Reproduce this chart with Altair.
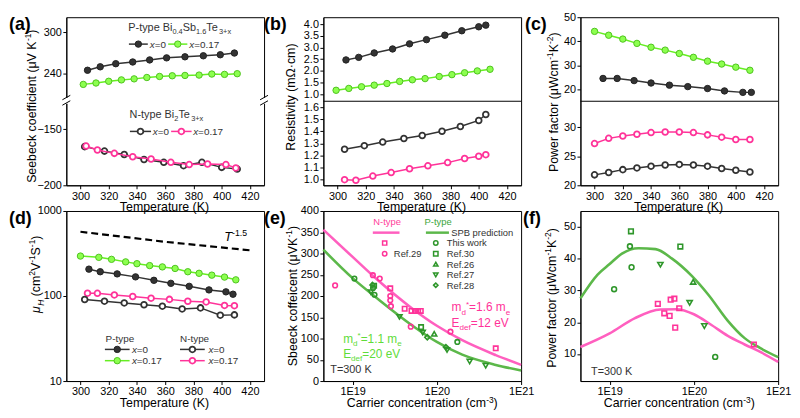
import altair as alt
import pandas as pd

FONT = "Liberation Sans"
W, H1, H2 = 200, 170, 172
HALF = H1 / 2

BLACK = "#333333"
GREEN_LINE = "#66ee22"
GREEN_FILL = "#8cff4f"
GREEN_EDGE = "#4fc21f"
PINK = "#ff3399"
PINK_CURVE = "#ff5fbf"
GREEN_CURVE = "#5cb84a"
GREEN_MK = "#2e962a"
GREEN_TXT = "#5fdc3a"

T_TICKS = [300, 320, 340, 360, 380, 400, 420]

# ---------------- (a) Seebeck coefficient vs T ----------------
a_T_p0 = [305, 314, 325, 337, 349, 361, 374, 387, 399, 409]
a_S_p0 = [245, 250, 254.5, 257, 260, 263, 264.5, 266, 267.5, 270]
a_T_p17 = [302, 311, 320, 329, 338, 347, 356, 365, 374, 384, 393, 402, 411]
a_S_p17 = [224.5, 226.5, 229, 231, 232.5, 234.5, 236, 237, 237.5, 238, 239.5, 239, 240]
a_T_n0 = [303, 317, 331, 345, 359, 373, 386, 400, 411]
a_S_n0 = [-165.5, -169.5, -172.5, -177, -179.5, -182.5, -179.5, -184, -185.5]
a_T_n17 = [304, 312, 324, 337, 350, 364, 377, 390, 403, 410]
a_S_n17 = [-165, -168.5, -171.5, -174.5, -176.5, -179.5, -181.5, -181, -181.5, -184.5]

# ---------------- (b) Resistivity vs T ----------------
b_T_p0 = [306, 315, 326, 339, 351, 363, 376, 388, 400, 405]
b_R_p0 = [2.47, 2.58, 2.77, 2.94, 3.16, 3.34, 3.53, 3.72, 3.89, 3.96]
b_T_p17 = [299, 308, 317, 326, 335, 344, 353, 362, 372, 381, 390, 399, 408]
b_R_p17 = [1.17, 1.25, 1.32, 1.39, 1.46, 1.55, 1.62, 1.67, 1.76, 1.84, 1.92, 2.00, 2.07]
b_T_n0 = [305, 319, 332, 347, 360, 374, 387, 400, 405]
b_R_n0 = [1.25, 1.28, 1.31, 1.34, 1.365, 1.40, 1.44, 1.49, 1.54]
b_T_n17 = [305, 313, 325, 338, 351, 364, 378, 390, 400, 405]
b_R_n17 = [0.997, 0.992, 1.027, 1.056, 1.088, 1.112, 1.139, 1.173, 1.192, 1.205]

# ---------------- (c) Power factor vs T ----------------
c_T_p17 = [300, 310, 320, 330, 340, 350, 360, 370, 380, 390, 400, 410]
c_PF_p17 = [44.1, 42.5, 40.9, 39.1, 37.5, 36.3, 34.9, 33.3, 31.7, 30.5, 29.2, 27.9]
c_T_p0 = [306, 316, 328, 340, 353, 366, 380, 392, 405, 411]
c_PF_p0 = [24.5, 24.5, 23.6, 22.6, 21.7, 21.1, 20.3, 19.3, 18.7, 18.7]
c_T_n17 = [300, 310, 320, 330, 340, 350, 360, 370, 380, 390, 400, 410]
c_PF_n17 = [27.2, 28.1, 28.5, 28.8, 29.1, 29.2, 29.2, 29.1, 28.7, 28.3, 27.9, 27.9]
c_T_n0 = [300, 310, 320, 330, 340, 350, 360, 370, 380, 390, 400, 410]
c_PF_n0 = [21.8, 22.2, 22.7, 23.0, 23.3, 23.5, 23.6, 23.5, 23.3, 22.9, 22.6, 22.3]

# ---------------- (d) Hall mobility vs T ----------------
d_T_ref = [300, 360, 420]
d_mu_ref = [570, 434, 345]
d_T_p17 = [300, 313, 322, 332, 340, 349, 358, 367, 376, 384, 393, 402, 410]
d_mu_p17 = [295, 285, 270, 252, 240, 228, 220, 211, 193, 185, 176, 167, 155]
d_T_p0 = [306, 314, 326, 339, 352, 364, 377, 391, 403, 408]
d_mu_p0 = [207, 193, 182, 168, 153, 141, 130, 118, 112, 105]
d_T_n17 = [305, 312, 324, 337, 350, 363, 376, 389, 402, 409]
d_mu_n17 = [108, 107.5, 103, 98.7, 94.3, 91.3, 86.7, 85.2, 77.5, 77]
d_T_n0 = [303, 317, 331, 345, 358, 372, 385, 399, 409]
d_mu_n0 = [91, 87, 83, 79, 76, 70.5, 72.5, 59.5, 60]

# ---------------- (e) Seebeck vs carrier concentration ----------------
e_curveN_n = [4.5e18, 1e19, 2e19, 5e19, 1e20, 2e20, 5e20, 1e21]
e_curveN_S = [356, 292, 237, 172, 130, 96, 61, 38]
e_curveP_n = [4.5e18, 1e19, 2e19, 5e19, 1e20, 2e20, 5e20, 1e21]
e_curveP_S = [309, 242, 193, 132, 92, 62, 38, 25]
e_Ntw_n = [2.8e19, 4.15e19, 5.0e19, 5.5e19, 6.0e19, 6.45e19, 5.0e20]
e_Ntw_S = [218, 170, 165, 165, 165, 165, 77]
e_N29_n = [6.2e18, 1.74e19, 2.1e19, 2.8e19, 2.8e19, 2.85e19, 4.9e19, 1.45e20]
e_N29_S = [225, 249, 241, 200, 190, 176, 128, 116]
e_Ptw_n = [1.05e19, 1.75e19, 1.82e19, 1.75e20]
e_Ptw_S = [241, 219, 203, 92]
e_P30_n = [1.8e19, 6.5e19]
e_P30_S = [224, 127]
e_P26_n = [9.3e19]
e_P26_S = [111]
e_P27_n = [1.65e19, 3.6e19, 6.8e19, 1.32e20, 2.45e20, 3.8e20]
e_P27_S = [209, 151, 114, 73, 46, 36]
e_P28_n = [1.72e19, 7.7e19, 1.28e20]
e_P28_S = [226, 103, 80]

# ---------------- (f) Power factor vs carrier concentration ----------------
f_curveP_n = [4.5e18, 7.2e18, 1e19, 1.4e19, 2.2e19, 3.5e19, 5.5e19, 9.5e19, 1.5e20, 2.5e20, 4e20, 6e20, 1e21]
f_curveP_PF = [27.5, 35.0, 38.3, 41.6, 43.3, 43.0, 40.0, 34.5, 28.5, 20.6, 15.0, 12.0, 9.0]
f_curveN_n = [4.5e18, 1e19, 2e19, 4e19, 6.3e19, 1e20, 1.6e20, 2.5e20, 4e20, 6.3e20, 1e21]
f_curveN_PF = [12.2, 16.5, 21.3, 24.0, 24.1, 22.5, 19.2, 15.8, 13.0, 10.5, 7.5]
f_Ptw_n = [1.13e19, 1.74e19, 1.82e19, 1.79e20]
f_Ptw_PF = [30.4, 43.9, 37.3, 9.1]
f_P30_n = [1.79e19, 6.9e19]
f_P30_PF = [48.6, 43.8]
f_P26_n = [9.8e19]
f_P26_PF = [32.7]
f_P27_n = [4.0e19, 8.9e19, 1.33e20]
f_P27_PF = [38.1, 26.1, 18.8]
f_Ntw_n = [3.73e19, 4.45e19, 5.15e19, 5.3e19, 5.86e19, 6.0e19, 6.7e19, 5.15e20]
f_Ntw_PF = [25.8, 22.8, 22.0, 27.1, 27.4, 18.3, 24.4, 13.0]

# ---------------- helpers ----------------
AW = {c: 556 for c in "0123456789"}
AW.update({" ": 278, "(": 333, ")": 333, "*": 389, "+": 584, "-": 333, ".": 278, "=": 584,
           "·": 278, "μ": 576, "Ω": 768,
           "A": 667, "B": 667, "C": 722, "D": 722, "E": 667, "F": 611, "G": 778, "H": 722,
           "I": 278, "K": 667, "L": 556, "M": 833, "N": 722, "O": 778, "P": 667, "R": 722,
           "S": 667, "T": 611, "V": 667, "W": 944, "X": 667, "Y": 667,
           "a": 556, "b": 556, "c": 500, "d": 556, "e": 556, "f": 278, "g": 556, "h": 556,
           "i": 222, "k": 500, "l": 222, "m": 833, "n": 556, "o": 556, "p": 556, "r": 333,
           "s": 500, "t": 278, "u": 556, "v": 500, "w": 722, "x": 500, "y": 500, "z": 500})


def tw(t):
    return sum(AW.get(c, 556) for c in t) / 1000.0


def txt(text, x, y, size=11, color="black", align="left", baseline="alphabetic",
        weight="normal", angle=0, italic=False):
    props = dict(align=align, baseline=baseline, fontSize=size, color=color, font=FONT,
                 fontWeight=weight)
    if angle:
        props["angle"] = angle
    if italic:
        props["fontStyle"] = "italic"
    return alt.Chart(pd.DataFrame({"t": [text]})).mark_text(**props).encode(
        x=alt.value(x), y=alt.value(y), text="t:N")


def rich(segs, x, y, size, color="black", angle=0, anchor="start"):
    sizes = [size * 0.68 if k in ("sub", "sup", "isub") else size for t, k in segs]
    widths = [tw(t) * s for (t, k), s in zip(segs, sizes)]
    total = sum(widths)
    pos = {"start": 0, "middle": -total / 2, "end": -total}[anchor]
    out = []
    for (t, k), s, w in zip(segs, sizes, widths):
        lead = len(t) - len(t.lstrip(" "))
        body = t.strip(" ")
        p = pos + lead * 0.278 * s
        off = 0.28 * size if k in ("sub", "isub") else (-0.38 * size if k == "sup" else 0)
        if angle == 0:
            px, py = x + p, y + off
        else:
            px, py = x + off, y - p
        if body:
            out.append(txt(body, px, py, s, color, angle=angle, italic=(k in ("i", "isub"))))
        pos += w
    return out


def vtitle(segs, cx, cy, size=12.5):
    return rich(segs, cx + 0.36 * size, cy, size, angle=270, anchor="middle")


def xtitle(segs, h, size=12.5):
    return rich(segs, W / 2, h + 26.5, size, anchor="middle")


def seg(x1, y1, x2, y2, color="black", width=1.0, dash=None):
    props = dict(color=color, strokeWidth=width)
    if dash:
        props["strokeDash"] = dash
    enc = dict(x=alt.value(x1), x2=alt.value(x2), y=alt.value(y1))
    if y2 != y1:
        enc["y2"] = alt.value(y2)
    return alt.Chart(pd.DataFrame({"a": [0]})).mark_rule(**props).encode(**enc)


def dot(x, y, shape="circle", fill="black", stroke="black", sw=1.0, size=40):
    return alt.Chart(pd.DataFrame({"a": [0]})).mark_point(
        shape=shape, filled=True, fill=fill, stroke=stroke, strokeWidth=sw, size=size,
        opacity=1).encode(x=alt.value(x), y=alt.value(y))


def box(x1, x2, y1, y2, color="white"):
    return alt.Chart(pd.DataFrame({"a": [0]})).mark_rect(color=color).encode(
        x=alt.value(x1), x2=alt.value(x2), y=alt.value(y1), y2=alt.value(y2))


STY = {
    "p0": dict(line=BLACK, fill=BLACK, stroke="#222222", sw=1.0, size=42),
    "p17": dict(line=GREEN_LINE, fill=GREEN_FILL, stroke=GREEN_EDGE, sw=1.0, size=42),
    "n0": dict(line=BLACK, fill="white", stroke=BLACK, sw=1.8, size=34),
    "n17": dict(line=PINK, fill="white", stroke=PINK, sw=1.8, size=34),
}

xT_scale = alt.Scale(domain=[290, 430], nice=False, zero=False)
xT_axis = alt.Axis(values=T_TICKS, title=None, labelFlush=False)


def tseries(T, V, ysc, yax, kind):
    st = STY[kind]
    df = pd.DataFrame({"T": T, "V": V})
    base = alt.Chart(df).encode(
        x=alt.X("T:Q", scale=xT_scale, axis=xT_axis),
        y=alt.Y("V:Q", scale=ysc, axis=yax))
    return [base.mark_line(color=st["line"], strokeWidth=1.5),
            base.mark_point(shape="circle", filled=True, fill=st["fill"], stroke=st["stroke"],
                            strokeWidth=st["sw"], size=st["size"], opacity=1)]


def legend_entry(x1, x2, y, kind, label_x, label, size=10):
    st = STY[kind]
    out = [seg(x1, y, x2, y, st["line"], 1.5),
           dot((x1 + x2) / 2, y, "circle", st["fill"], st["stroke"], st["sw"], st["size"])]
    out += rich([("x", "i"), (label, "n")], label_x, y + 0.36 * size, size, BLACK)
    return out


def lin(domain, rng=None):
    kw = dict(domain=domain, nice=False, zero=False)
    if rng is not None:
        kw["range"] = rng
    return alt.Scale(**kw)


T_TITLE = [("Temperature (K)", "n")]
N_TITLE = [("Carrier concentration (cm", "n"), ("-3", "sup"), (")", "n")]
PF_TITLE = [("Power factor (μWcm", "n"), ("-1", "sup"), ("K", "n"), ("-2", "sup"), (")", "n")]


def plabel(s, x=-58, y=-1):
    return txt(s, x, y, 18, "black", baseline="top", weight="bold")


# ---------------- panel (a) ----------------
sa_top = lin([200, 322], [HALF, 0])
sa_bot = lin([-200, -125], [H1, HALF])
ya_top = alt.Axis(values=[240, 300], orient="left", title=None)
ya_bot = alt.Axis(values=[-200, -150], orient="left", title=None)
a_top = alt.layer(*tseries(a_T_p0, a_S_p0, sa_top, ya_top, "p0"),
                  *tseries(a_T_p17, a_S_p17, sa_top, ya_top, "p17"))
a_bot = alt.layer(*tseries(a_T_n0, a_S_n0, sa_bot, ya_bot, "n0"),
                  *tseries(a_T_n17, a_S_n17, sa_bot, ya_bot, "n17"))
a_ann = []
for bx in (0, W):
    a_ann += [box(bx - 4, bx + 4, HALF - 3.5, HALF + 2.5),
              seg(bx - 4, HALF - 1.5, bx + 4, HALF - 6),
              seg(bx - 4, HALF + 4, bx + 4, HALF - 0.5)]
a_ann += rich([("P-type Bi", "n"), ("0.4", "sub"), ("Sb", "n"), ("1.6", "sub"), ("Te", "n"),
               ("3+x", "sub")], 62.7, 13.6, 11, BLACK)
a_ann += legend_entry(63.3, 82.4, 27.2, "p0", 84.5, "=0")
a_ann += legend_entry(103, 122.4, 27.2, "p17", 124.4, "=0.17")
a_ann += rich([("N-type Bi", "n"), ("2", "sub"), ("Te", "n"), ("3+x", "sub")], 64, 102.2, 11, BLACK)
a_ann += legend_entry(64.3, 85.7, 115.5, "n0", 87.4, "=0")
a_ann += legend_entry(106, 126.7, 115.5, "n17", 128.3, "=0.17")
a_ann += vtitle([("Seebeck coefficient (μV K", "n"), ("-1", "sup"), (")", "n")], -35.5, 90)
a_ann += xtitle(T_TITLE, H1)
a_ann += [plabel("(a)")]
panel_a = alt.layer(a_top, a_bot, *a_ann).resolve_scale(y="independent").properties(width=W, height=H1)

# ---------------- panel (b) ----------------
sb_top = lin([0.7, 4.3], [HALF, 0])
sb_bot = lin([0.95, 1.65], [H1, HALF])
yb_top = alt.Axis(values=[1.0, 1.5, 2.0, 2.5, 3.0, 3.5, 4.0], format=".1f", orient="left", title=None)
yb_bot = alt.Axis(values=[1.0, 1.1, 1.2, 1.3, 1.4, 1.5, 1.6], format=".1f", orient="left", title=None)
b_top = alt.layer(*tseries(b_T_p0, b_R_p0, sb_top, yb_top, "p0"),
                  *tseries(b_T_p17, b_R_p17, sb_top, yb_top, "p17"))
b_bot = alt.layer(*tseries(b_T_n0, b_R_n0, sb_bot, yb_bot, "n0"),
                  *tseries(b_T_n17, b_R_n17, sb_bot, yb_bot, "n17"))
b_ann = [seg(0, HALF, W, HALF, "black", 1)]
b_ann += vtitle([("Resistivity (mΩ·cm)", "n")], -33, 81)
b_ann += xtitle(T_TITLE, H1)
b_ann += [plabel("(b)", -60)]
panel_b = alt.layer(b_top, b_bot, *b_ann).resolve_scale(y="independent").properties(width=W, height=H1)

# ---------------- panel (c) ----------------
sc_top = lin([15, 50], [HALF, 0])
sc_bot = lin([20, 34.5], [H1, HALF])
yc_top = alt.Axis(values=[20, 30, 40, 50], orient="left", title=None)
yc_bot = alt.Axis(values=[20, 25, 30], orient="left", title=None)
c_top = alt.layer(*tseries(c_T_p17, c_PF_p17, sc_top, yc_top, "p17"),
                  *tseries(c_T_p0, c_PF_p0, sc_top, yc_top, "p0"))
c_bot = alt.layer(*tseries(c_T_n17, c_PF_n17, sc_bot, yc_bot, "n17"),
                  *tseries(c_T_n0, c_PF_n0, sc_bot, yc_bot, "n0"))
c_ann = [seg(0, HALF, W, HALF, "black", 1)]
c_ann += vtitle(PF_TITLE, -27, 86)
c_ann += xtitle(T_TITLE, H1)
c_ann += [plabel("(c)", -56)]
panel_c = alt.layer(c_top, c_bot, *c_ann).resolve_scale(y="independent").properties(width=W, height=H1)

# ---------------- panel (d) ----------------
sd = alt.Scale(type="log", domain=[10, 1000], nice=False)
yd = alt.Axis(values=[10, 100, 1000], format="d", title=None)
d_ref = alt.Chart(pd.DataFrame({"T": d_T_ref, "V": d_mu_ref})).mark_line(
    color="black", strokeWidth=2.2, strokeDash=[7, 4]).encode(
    x=alt.X("T:Q", scale=xT_scale, axis=xT_axis), y=alt.Y("V:Q", scale=sd, axis=yd))
d_layers = [d_ref]
d_layers += tseries(d_T_p17, d_mu_p17, sd, yd, "p17")
d_layers += tseries(d_T_p0, d_mu_p0, sd, yd, "p0")
d_layers += tseries(d_T_n17, d_mu_n17, sd, yd, "n17")
d_layers += tseries(d_T_n0, d_mu_n0, sd, yd, "n0")
d_ann = [txt("P-type", 39.7, 132.1, 10, BLACK), txt("N-type", 115, 132.1, 10, BLACK)]
d_ann += legend_entry(39, 64, 140, "p0", 66.3, "=0")
d_ann += legend_entry(39, 64, 151.4, "p17", 66.3, "=0.17")
d_ann += legend_entry(115, 140, 140, "n0", 143.7, "=0")
d_ann += legend_entry(115, 140, 151.4, "n17", 143.7, "=0.17")
d_ann += rich([("T", "i"), ("-1.5", "sup")], 159.7, 30.5, 13, "black")
d_ann += vtitle([("μ", "i"), ("H", "isub"), (" (cm", "n"), ("2", "sup"), ("V", "n"), ("-1", "sup"),
                 ("S", "n"), ("-1", "sup"), (")", "n")], -31, 64)
d_ann += xtitle(T_TITLE, H2)
d_ann += [plabel("(d)")]
panel_d = alt.layer(*d_layers, *d_ann).properties(width=W, height=H2)

# ---------------- panel (e) ----------------
xn_scale = alt.Scale(type="log", domain=[4.5e18, 1e21], nice=False)
xn_axis = alt.Axis(values=[1e19, 1e20, 1e21], labelExpr="'1E' + round(log(datum.value)/LN10)",
                   title=None, labelFlush=False)


def ncurve(n, v, ysc, yax, color):
    return alt.Chart(pd.DataFrame({"n": n, "v": v})).mark_line(
        color=color, strokeWidth=2.6, interpolate="monotone").encode(
        x=alt.X("n:Q", scale=xn_scale, axis=xn_axis), y=alt.Y("v:Q", scale=ysc, axis=yax))


def npoints(n, v, ysc, yax, color, shape, size=24):
    return alt.Chart(pd.DataFrame({"n": n, "v": v})).mark_point(
        shape=shape, filled=False, color=color, strokeWidth=1.6, size=size, opacity=1).encode(
        x=alt.X("n:Q", scale=xn_scale, axis=xn_axis), y=alt.Y("v:Q", scale=ysc, axis=yax))


se = lin([0, 400])
ye = alt.Axis(values=[0, 50, 100, 150, 200, 250, 300, 350, 400], title=None)
e_layers = [ncurve(e_curveN_n, e_curveN_S, se, ye, PINK_CURVE),
            ncurve(e_curveP_n, e_curveP_S, se, ye, GREEN_CURVE),
            npoints(e_Ntw_n, e_Ntw_S, se, ye, PINK, "square", 20),
            npoints(e_N29_n, e_N29_S, se, ye, PINK, "circle", 22),
            npoints(e_Ptw_n, e_Ptw_S, se, ye, GREEN_MK, "circle", 22),
            npoints(e_P30_n, e_P30_S, se, ye, GREEN_MK, "square", 20),
            npoints(e_P26_n, e_P26_S, se, ye, GREEN_MK, "triangle-up", 26),
            npoints(e_P27_n, e_P27_S, se, ye, GREEN_MK, "triangle-down", 26),
            npoints(e_P28_n, e_P28_S, se, ye, GREEN_MK, "diamond", 26)]
e_ann = [txt("N-type", 64.5, 14.2, 9.5, "#ff3d9a", align="center"),
         seg(50, 21.9, 77, 21.9, PINK_CURVE, 2.5),
         dot(62, 32.4, "square", "transparent", PINK, 1.5, 18),
         dot(62, 43.3, "circle", "transparent", PINK, 1.5, 20),
         txt("Ref.29", 71.3, 46.7, 9.5, BLACK),
         txt("P-type", 116, 14.2, 9.5, "#3aa53a", align="center"),
         seg(103.7, 21.9, 127, 21.9, GREEN_CURVE, 2.5),
         txt("SPB prediction", 129.3, 25.3, 9.5, BLACK)]
e_leg = [("circle", "This work", 32.4), ("square", "Ref.30", 43.3), ("triangle-up", "Ref.26", 53.8),
         ("triangle-down", "Ref.27", 64.6), ("diamond", "Ref.28", 75.0)]
for shp, lab, yy in e_leg:
    e_ann += [dot(113.7, yy, shp, "transparent", GREEN_MK, 1.5, 20), txt(lab, 124.7, yy + 3.4, 9.5, BLACK)]
e_ann += rich([("m", "n"), ("d", "sub"), ("*", "sup"), ("=1.6 m", "n"), ("e", "sub")], 129.7, 101.5, 12, PINK)
e_ann += rich([("E", "n"), ("def", "sub"), ("=12 eV", "n")], 129.7, 117, 12, PINK)
e_ann += rich([("m", "n"), ("d", "sub"), ("*", "sup"), ("=1.1 m", "n"), ("e", "sub")], 20, 133.3, 12, GREEN_TXT)
e_ann += rich([("E", "n"), ("def", "sub"), ("=20 eV", "n")], 20, 148.6, 12, GREEN_TXT)
e_ann += [txt("T=300 K", 7, 164.2, 11, BLACK)]
e_ann += vtitle([("Sbeeck coffeicent (μVK", "n"), ("-1", "sup"), (")", "n")], -31, 86)
e_ann += xtitle(N_TITLE, H2)
e_ann += [plabel("(e)", -60)]
panel_e = alt.layer(*e_layers, *e_ann).properties(width=W, height=H2)

# ---------------- panel (f) ----------------
sf = lin([1.5, 55])
yf = alt.Axis(values=[10, 20, 30, 40, 50], title=None)
f_layers = [ncurve(f_curveP_n, f_curveP_PF, sf, yf, GREEN_CURVE),
            ncurve(f_curveN_n, f_curveN_PF, sf, yf, PINK_CURVE),
            npoints(f_Ptw_n, f_Ptw_PF, sf, yf, GREEN_MK, "circle", 24),
            npoints(f_P30_n, f_P30_PF, sf, yf, GREEN_MK, "square", 22),
            npoints(f_P26_n, f_P26_PF, sf, yf, GREEN_MK, "triangle-up", 28),
            npoints(f_P27_n, f_P27_PF, sf, yf, GREEN_MK, "triangle-down", 28),
            npoints(f_Ntw_n, f_Ntw_PF, sf, yf, PINK, "square", 22)]
f_ann = [txt("T=300 K", 10.7, 166, 11, BLACK)]
f_ann += vtitle(PF_TITLE, -29.5, 88)
f_ann += xtitle(N_TITLE, H2)
f_ann += [plabel("(f)", -58)]
panel_f = alt.layer(*f_layers, *f_ann).properties(width=W, height=H2)

chart = alt.concat(panel_a, panel_b, panel_c, panel_d, panel_e, panel_f,
                   columns=3, spacing={"row": 26, "column": 60}, bounds="flush",
                   padding=0).configure_view(
    stroke="black", strokeWidth=1).configure_axis(
    labelFont=FONT, labelFontSize=11, labelColor="black", tickColor="black",
    domainColor="black", grid=False, tickSize=3.5, labelPadding=1.5, domainWidth=1, tickWidth=1)

chart.save("out.html", embed_options={"renderer": "svg", "actions": False})
